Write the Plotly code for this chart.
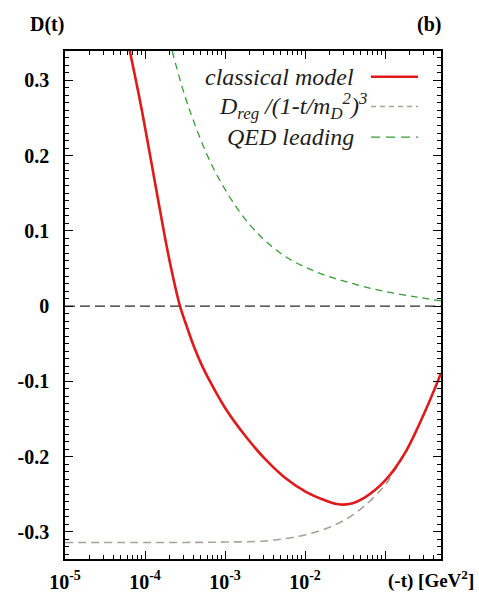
import plotly.graph_objects as go

# log10(-t) positions and D(t) values
classical_logt = [-4.19, -4.05, -3.90, -3.75, -3.6625, -3.5625, -3.475, -3.3875, -3.2875, -3.1875, -3.0, -2.75, -2.5, -2.25, -2.0, -1.75, -1.6, -1.45, -1.25, -1.0, -0.75, -0.5, -0.3]
classical_D = [0.339, 0.266, 0.179, 0.091, 0.045, 0.0, -0.028, -0.054, -0.079, -0.100, -0.135, -0.172, -0.203, -0.228, -0.246, -0.258, -0.263, -0.263, -0.254, -0.232, -0.195, -0.140, -0.089]

dreg_logt = [-5.0, -3.5, -3.0, -2.5, -2.25, -2.0, -1.75, -1.5, -1.25, -1.0, -0.9, -0.75, -0.5, -0.3]
dreg_D = [-0.314, -0.314, -0.3135, -0.312, -0.309, -0.304, -0.296, -0.284, -0.265, -0.238, -0.222, -0.196, -0.141, -0.090]

qed_logt = [-3.66, -3.46, -3.125, -2.69, -2.275, -1.85, -1.44, -1.025, -0.60, -0.30]
qed_D = [0.339, 0.266, 0.179, 0.108, 0.068, 0.045, 0.031, 0.020, 0.012, 0.007]

xtick_vals = [1e-5, 1e-4, 1e-3, 1e-2, 1e-1]
xtick_text = ["10<sup>-5</sup>", "10<sup>-4</sup>", "10<sup>-3</sup>", "10<sup>-2</sup>", ""]
ytick_vals = [-0.3, -0.2, -0.1, 0, 0.1, 0.2, 0.3]
ytick_text = ["-0.3", "-0.2", "-0.1", "0", "0.1", "0.2", "0.3"]

legend_labels = ["classical model",
                 "D<sub>reg</sub> /(1-t/m<sub>D</sub><sup>2</sup>)<sup>3</sup>",
                 "QED leading"]

def tv(logs):
    return [10 ** v for v in logs]

RED = "rgb(225,25,25)"
GREY = "rgb(170,160,150)"
GREEN = "rgb(50,160,50)"

fig = go.Figure()
fig.add_trace(go.Scatter(x=tv(dreg_logt), y=dreg_D, mode="lines",
                         line=dict(color=GREY, width=1.6, dash="8px,5px", shape="spline", smoothing=1.0)))
fig.add_trace(go.Scatter(x=tv(qed_logt), y=qed_D, mode="lines",
                         line=dict(color=GREEN, width=1.3, dash="7px,5px", shape="spline", smoothing=1.0)))
fig.add_trace(go.Scatter(x=tv(classical_logt), y=classical_D, mode="lines",
                         line=dict(color=RED, width=2.6, shape="spline", smoothing=1.0)))

# zero line
fig.add_shape(type="line", xref="paper", x0=0, x1=1, yref="y", y0=0, y1=0,
              line=dict(color="rgb(40,40,40)", width=1.4, dash="10px,5px"), layer="below")

minor_x = [m * 10 ** e for e in range(-5, 0) for m in range(2, 10) if m * 10 ** e <= 0.5]

fig.update_layout(
    width=479, height=605,
    margin=dict(l=65, r=38, t=51, b=41),
    plot_bgcolor="white", paper_bgcolor="white",
    showlegend=False,
    font=dict(family="Liberation Serif", color="black", size=19),
    xaxis=dict(type="log", range=[-5, -0.3], tickmode="array", tickvals=xtick_vals, ticktext=xtick_text,
               ticks="inside", ticklen=8, tickwidth=1.2, tickcolor="black",
               showline=True, linecolor="black", linewidth=1.5, mirror="allticks",
               showgrid=False, zeroline=False, ticklabelstandoff=4,
               tickfont=dict(family="Liberation Serif", size=20, color="black", weight="bold"),
               minor=dict(tickvals=minor_x, ticks="inside", ticklen=4, tickcolor="black", showgrid=False)),
    yaxis=dict(range=[-0.336, 0.339], tickmode="array", tickvals=ytick_vals, ticktext=ytick_text,
               ticks="inside", ticklen=8, tickwidth=1.2, tickcolor="black",
               showline=True, linecolor="black", linewidth=1.5, mirror="allticks",
               showgrid=False, zeroline=False, ticklabelstandoff=10,
               tickfont=dict(family="Liberation Serif", size=20, color="black", weight="bold"),
               minor=dict(dtick=0.01, ticks="inside", ticklen=4, tickcolor="black", showgrid=False)),
)

# legend: right-aligned italic text with line samples on the right
leg_y = [77, 107, 138]
leg_colors = [RED, GREY, GREEN]
leg_dash = ["solid", "5px,4px", "9px,6px"]
leg_w = [2.6, 1.6, 1.3]
pl, pr, pt, pb = 65, 441, 51, 564
for i, lab in enumerate(legend_labels):
    yp = 1 - (leg_y[i] - pt) / (pb - pt)
    xr = 356 if i != 1 else 369
    fig.add_annotation(xref="paper", yref="paper", x=(xr - pl) / (pr - pl),
                       y=yp, xanchor="right", yanchor="middle", showarrow=False,
                       text="<i>" + lab + "</i>",
                       font=dict(family="Liberation Serif", size=24, color="rgb(30,30,30)"))
    fig.add_shape(type="line", xref="paper", yref="paper",
                  x0=(371 - pl) / (pr - pl), x1=(418 - pl) / (pr - pl), y0=yp, y1=yp,
                  line=dict(color=leg_colors[i], width=leg_w[i], dash=leg_dash[i]))

fig.add_annotation(xref="paper", yref="paper", x=(47 - pl) / (pr - pl), y=1 + (51 - 24) / (pb - pt),
                   xanchor="center", yanchor="middle", showarrow=False,
                   text="<b>D(t)</b>", font=dict(family="Liberation Serif", size=20, color="black"))
fig.add_annotation(xref="paper", yref="paper", x=(443 - pl) / (pr - pl), y=1 + (51 - 24) / (pb - pt),
                   xanchor="right", yanchor="middle", showarrow=False,
                   text="<b>(b)</b>", font=dict(family="Liberation Serif", size=20, color="black"))
fig.add_annotation(xref="paper", yref="paper", x=(476 - pl) / (pr - pl), y=-(585 - pb) / (pb - pt),
                   xanchor="right", yanchor="middle", showarrow=False,
                   text="<b>(-t) [GeV<sup>2</sup>]</b>", font=dict(family="Liberation Serif", size=19, color="black"))

fig.write_html("out.html")
